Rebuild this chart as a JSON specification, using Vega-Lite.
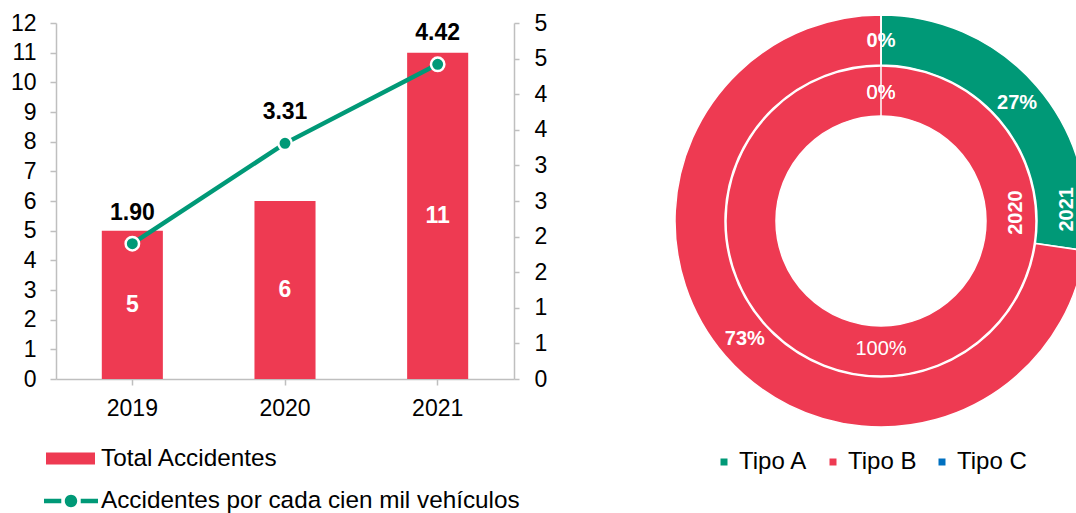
{
  "$schema": "https://vega.github.io/schema/vega-lite/v6.json",
  "padding": {"left": 10, "top": 12, "right": 0, "bottom": 0},
  "bounds": "flush",
  "spacing": 171,
  "background": "white",
  "config": {
    "font": "Liberation Sans",
    "view": {"stroke": null},
    "axis": {
      "labelFont": "Liberation Sans",
      "labelFontSize": 23,
      "labelColor": "#000000",
      "domainColor": "#BFBFBF",
      "tickColor": "#BFBFBF",
      "domainWidth": 1.5,
      "tickWidth": 1.5,
      "grid": false,
      "title": null,
      "labelOverlap": false
    },
    "legend": {
      "labelFont": "Liberation Sans",
      "labelFontSize": 24.3,
      "labelColor": "#000000",
      "labelLimit": 0,
      "padding": 0,
      "title": null
    }
  },
  "resolve": {
    "scale": {"color": "independent", "fill": "independent", "stroke": "independent"},
    "legend": {"color": "independent", "fill": "independent", "stroke": "independent"}
  },
  "hconcat": [
    {
      "width": 458,
      "height": 356,
      "data": {
        "values": [
          {"anio": "2019", "total": 5, "indice": 1.90},
          {"anio": "2020", "total": 6, "indice": 3.31},
          {"anio": "2021", "total": 11, "indice": 4.42}
        ]
      },
      "encoding": {
        "x": {
          "field": "anio",
          "type": "ordinal",
          "scale": {"paddingInner": 0.6, "paddingOuter": 0.3},
          "axis": {"labelAngle": 0, "tickSize": 6, "labelPadding": 12}
        }
      },
      "layer": [
        {
          "mark": {"type": "bar", "color": "#EE3A52"},
          "encoding": {
            "y": {
              "field": "total",
              "type": "quantitative",
              "scale": {"domain": [0, 12]},
              "axis": {"orient": "left", "values": [0,1,2,3,4,5,6,7,8,9,10,11,12], "tickSize": 6, "labelPadding": 14}
            },
            "fill": {
              "datum": "Total Accidentes",
              "type": "nominal",
              "scale": {"range": ["#EE3A52"]},
              "legend": {
                "orient": "none",
                "legendX": -10,
                "legendY": 411,
                "symbolType": "M-1,-0.245H1V0.245H-1Z",
                "symbolSize": 2401,
                "symbolStrokeWidth": 0,
                "labelOffset": 6
              }
            }
          }
        },
        {
          "mark": {"type": "text", "color": "white", "fontWeight": "bold", "fontSize": 23, "baseline": "middle"},
          "encoding": {
            "y": {"field": "total", "type": "quantitative", "scale": {"domain": [0, 24]}, "axis": null},
            "text": {"field": "total", "type": "quantitative"}
          }
        },
        {
          "encoding": {
            "y": {
              "field": "indice",
              "type": "quantitative",
              "scale": {"domain": [0, 5]},
              "axis": {"orient": "right", "values": [0,0.5,1,1.5,2,2.5,3,3.5,4,4.5,5], "format": ".0f", "tickSize": 5, "labelPadding": 15, "labelOverlap": false}
            }
          },
          "layer": [
            {
              "mark": {"type": "line", "strokeWidth": 4.5},
              "encoding": {
                "stroke": {
                  "datum": "Accidentes por cada cien mil vehículos",
                  "type": "nominal",
                  "scale": {"range": ["#009977"]},
                  "legend": {
                    "orient": "none",
                    "legendX": -12,
                    "legendY": 451,
                    "symbolType": "M-1,-0.085H-0.36V0.085H-1Z M0.36,-0.085H1V0.085H0.36Z M0.23,0A0.23,0.23 0 1,1 -0.23,0A0.23,0.23 0 1,1 0.23,0Z",
                    "symbolSize": 2916,
                    "labelOffset": 3,
                    "encode": {"symbols": {"update": {"fill": {"value": "#009977"}, "stroke": {"value": "transparent"}, "strokeWidth": {"value": 0}}}}
                  }
                }
              }
            },
            {
              "mark": {"type": "point", "filled": true, "fill": "#009977", "stroke": "white", "strokeWidth": 2.5, "size": 180, "opacity": 1}
            },
            {
              "mark": {"type": "text", "fontWeight": "bold", "fontSize": 23, "dy": -31, "color": "#000000", "baseline": "middle"},
              "encoding": {
                "text": {"field": "indice", "type": "quantitative", "format": ".2f"}
              }
            }
          ]
        }
      ],
      "resolve": {"scale": {"y": "independent"}}
    },
    {
      "width": 392,
      "height": 396,
      "data": {
        "values": [
          {"anio": "2021", "tipo": "Tipo A", "share": 0.273},
          {"anio": "2021", "tipo": "Tipo B", "share": 0.727},
          {"anio": "2021", "tipo": "Tipo C", "share": 0},
          {"anio": "2020", "tipo": "Tipo A", "share": 0},
          {"anio": "2020", "tipo": "Tipo B", "share": 1},
          {"anio": "2020", "tipo": "Tipo C", "share": 0}
        ]
      },
      "layer": [
        {
          "transform": [{"filter": "datum.anio === '2021'"}],
          "mark": {"type": "arc", "radius": 206, "radius2": 156, "stroke": "white", "strokeWidth": 1.5},
          "encoding": {
            "theta": {"field": "share", "type": "quantitative", "stack": true, "scale": {"domain": [0, 1]}},
            "color": {
              "field": "tipo",
              "type": "nominal",
              "scale": {"domain": ["Tipo A", "Tipo B", "Tipo C"], "range": ["#009977", "#EE3A52", "#0070C0"]},
              "legend": {
                "orient": "none",
                "direction": "horizontal",
                "legendX": 27,
                "legendY": 427,
                "symbolType": "square",
                "symbolSize": 49,
                "symbolStrokeWidth": 0,
                "labelFontSize": 24,
                "labelOffset": 3,
                "columnPadding": 13
              }
            }
          }
        },
        {
          "transform": [{"filter": "datum.anio === '2021'"}],
          "mark": {"type": "text", "radius": 180, "fontSize": 20, "fontWeight": "bold", "color": "white"},
          "encoding": {
            "theta": {"field": "share", "type": "quantitative", "stack": true},
            "detail": {"field": "tipo", "type": "nominal"},
            "text": {"field": "share", "type": "quantitative", "format": ".0%"}
          }
        },
        {
          "transform": [{"filter": "datum.anio === '2020'"}],
          "mark": {"type": "arc", "radius": 155, "radius2": 105, "stroke": "white", "strokeWidth": 1.5},
          "encoding": {
            "theta": {"field": "share", "type": "quantitative", "stack": true},
            "color": {"field": "tipo", "type": "nominal"}
          }
        },
        {
          "transform": [{"filter": "datum.anio === '2020'"}],
          "mark": {"type": "text", "radius": 128, "fontSize": 20, "color": "white"},
          "encoding": {
            "theta": {"field": "share", "type": "quantitative", "stack": true},
            "detail": {"field": "tipo", "type": "nominal"},
            "text": {"field": "share", "type": "quantitative", "format": ".0%"}
          }
        },
        {
          "data": {"values": [{"anillo": "2021"}]},
          "mark": {"type": "text", "radius": 186, "angle": 270, "fontSize": 20, "fontWeight": "bold", "color": "white"},
          "encoding": {
            "theta": {"datum": 0.24, "type": "quantitative"},
            "text": {"field": "anillo", "type": "nominal"}
          }
        },
        {
          "data": {"values": [{"anillo": "2020"}]},
          "mark": {"type": "text", "radius": 135, "angle": 270, "fontSize": 20, "fontWeight": "bold", "color": "white"},
          "encoding": {
            "theta": {"datum": 0.24, "type": "quantitative"},
            "text": {"field": "anillo", "type": "nominal"}
          }
        }
      ]
    }
  ]
}
